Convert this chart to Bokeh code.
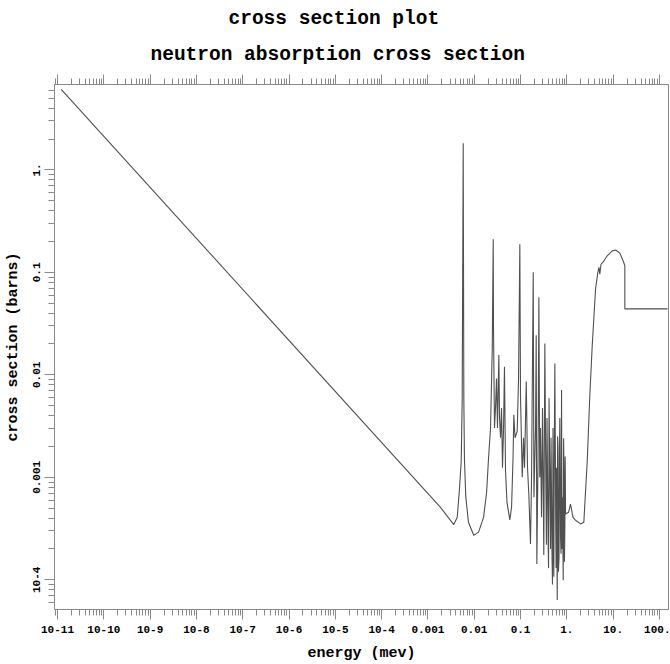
from bokeh.plotting import figure
from bokeh.models import LogAxis, FixedTicker, CustomJSTickFormatter, Title, Range1d
from bokeh.embed import file_html
from bokeh.resources import INLINE

# ---- data (energy in MeV, cross section in barns) ----
# 1/v part and first resonance
energy_low = [1.2e-11, 1.87e-3, 3.62e-3, 4.3e-3, 4.82e-3, 5.24e-3, 5.5e-3, 5.78e-3,
              5.96e-3, 6.16e-3, 6.58e-3, 7.5e-3]
sigma_low = [6.1, 5.09e-4, 3.46e-4, 4.07e-4, 7.9e-4, 1.44e-3, 5.9e-3, 1.82,
             5.9e-3, 1.44e-3, 6.4e-4, 3.65e-4]
# second resonance group
energy_mid = [9.8e-3, 0.0124, 0.0159, 0.0185, 0.0204, 0.0225, 0.0245, 0.0257, 0.0261,
              0.0274, 0.0288, 0.0303, 0.0318, 0.034, 0.0352, 0.037, 0.0389, 0.0408,
              0.043, 0.045, 0.0474, 0.051, 0.0587]
sigma_mid = [2.71e-4, 2.92e-4, 4.07e-4, 7.1e-4, 1.55e-3, 3.03e-3, 0.018, 0.21, 0.0282,
             3.03e-3, 4.74e-3, 9.2e-3, 3.03e-3, 0.0156, 3.8e-3, 2.43e-3, 4.74e-3, 1.24e-3,
             3.03e-3, 0.012, 1.15e-3, 5.7e-4, 3.84e-4]
# dense resonance region
energy_dense = [0.064, 0.0689, 0.0716, 0.076, 0.0847, 0.0906, 0.0966, 0.1, 0.109, 0.116,
                0.122, 0.133, 0.1416, 0.151, 0.164, 0.173, 0.188, 0.195, 0.211, 0.218,
                0.225, 0.239, 0.249, 0.26, 0.27, 0.284, 0.2985, 0.318, 0.335, 0.3516,
                0.362, 0.373, 0.393, 0.403, 0.413, 0.434, 0.445, 0.456, 0.479, 0.49,
                0.503, 0.513, 0.524, 0.537, 0.551, 0.575, 0.587, 0.598, 0.621, 0.633,
                0.646, 0.66, 0.679, 0.692, 0.706, 0.731, 0.75, 0.769, 0.788, 0.807,
                0.836, 0.852, 0.871, 0.888, 0.906, 0.92, 0.94]
sigma_dense = [5.1e-4, 1.55e-3, 4.08e-3, 2.43e-3, 2.8e-3, 9.2e-3, 0.188, 5.9e-3, 1e-3, 2.43e-3,
               1.24e-3, 8.6e-3, 1.24e-3, 6.85e-4, 2.23e-4, 1e-3, 0.1, 6.4e-4, 3.03e-3, 0.0243,
               1.43e-4, 1.55e-3, 0.0572, 1e-3, 3.03e-3, 4.07e-4, 4.74e-3, 1.75e-4, 0.0202, 1e-3,
               2.2e-4, 3.8e-3, 2.6e-4, 1.3e-4, 5.9e-3, 6.4e-4, 2.0e-4, 2.43e-3, 1.67e-4, 9e-5,
               3.03e-3, 2.5e-4, 1.07e-4, 2.2e-3, 0.0129, 4.07e-4, 1.3e-4, 1.24e-3, 6.36e-5, 2.5e-3,
               1.94e-3, 1.2e-4, 1.67e-4, 1.5e-3, 3.8e-3, 2.6e-4, 1.8e-4, 7.1e-3, 2.0e-4, 6.4e-4,
               9.9e-5, 2.4e-3, 1e-3, 1.5e-4, 3.26e-4, 1.6e-3, 4.39e-4]
# fast region and high-energy plateau
energy_high = [1.09, 1.2, 1.36, 1.54, 1.98, 2.33, 2.76, 3.14, 3.54, 4.17, 4.68, 4.95, 5.16,
               5.48, 6.3, 7.46, 9.57, 11.3, 13.96, 16.5, 17.9, 17.9, 150.0]
sigma_high = [4.56e-4, 5.48e-4, 4.07e-4, 3.81e-4, 3.51e-4, 3.65e-4, 1.45e-3, 6.37e-3, 0.0194,
              0.0688, 0.1, 0.112, 0.096, 0.12, 0.129, 0.145, 0.162, 0.165, 0.154, 0.129,
              0.116, 0.044, 0.044]

x_tick_exps = list(range(-11, 3))
x_tick_labels = ["10-11", "10-10", "10-9", "10-8", "10-7", "10-6", "10-5", "10-4",
                 "0.001", "0.01", "0.1", "1.", "10.", "100."]
y_tick_exps = [-4, -3, -2, -1, 0]
y_tick_labels = ["10-4", "0.001", "0.01", "0.1", "1."]

energy = energy_low + energy_mid + energy_dense + energy_high
sigma = sigma_low + sigma_mid + sigma_dense + sigma_high

FONT = "Liberation Mono"
GRAY = "#8a8a8a"

p = figure(width=670, height=664, x_axis_type="log", y_axis_type="log",
           x_range=Range1d(8.6e-12, 157.0), y_range=Range1d(5.13e-5, 6.81),
           output_backend="svg", toolbar_location=None, title=None,
           min_border_left=54, min_border_right=2, min_border_top=84, min_border_bottom=51)
p.background_fill_color = "white"
p.border_fill_color = "white"
p.grid.visible = False
p.outline_line_color = GRAY
p.outline_line_width = 1

x_major = [10.0 ** e for e in range(-12, 3)]
x_minor = [m * 10.0 ** e for e in range(-12, 3) for m in range(2, 10)]
y_major = [10.0 ** e for e in range(-5, 1)]
y_minor = [m * 10.0 ** e for e in range(-5, 1) for m in range(2, 10)]

fmt_code = """
const e = Math.round(Math.log10(tick));
const i = exps.indexOf(e);
return i >= 0 ? labels[i] : "";
"""
x_fmt = CustomJSTickFormatter(args=dict(exps=x_tick_exps, labels=x_tick_labels), code=fmt_code)
y_fmt = CustomJSTickFormatter(args=dict(exps=y_tick_exps, labels=y_tick_labels), code=fmt_code)
blank_fmt = CustomJSTickFormatter(code='return "";')


def style_axis(ax):
    ax.axis_line_color = GRAY
    ax.major_tick_line_color = GRAY
    ax.minor_tick_line_color = GRAY
    ax.major_tick_in = 0
    ax.minor_tick_in = 0
    ax.major_tick_out = 10
    ax.minor_tick_out = 6
    ax.major_label_text_font = FONT
    ax.major_label_text_font_style = "bold"
    ax.major_label_text_font_size = "11px"
    ax.major_label_text_color = "black"
    ax.axis_label_text_font = FONT
    ax.axis_label_text_font_style = "bold"
    ax.axis_label_text_font_size = "15px"
    ax.axis_label_text_color = "black"


xa = p.xaxis[0]
xa.ticker = FixedTicker(ticks=x_major, minor_ticks=x_minor)
xa.formatter = x_fmt
xa.axis_label = "energy (mev)"
style_axis(xa)
xa.major_label_standoff = 6
xa.axis_label_standoff = 9

ya = p.yaxis[0]
ya.ticker = FixedTicker(ticks=y_major, minor_ticks=y_minor)
ya.formatter = y_fmt
ya.axis_label = "cross section (barns)"
style_axis(ya)
ya.major_label_orientation = "vertical"
ya.major_label_standoff = 4
ya.axis_label_standoff = 9

top = LogAxis(ticker=FixedTicker(ticks=x_major, minor_ticks=x_minor), formatter=blank_fmt)
style_axis(top)
top.major_label_standoff = 0
p.add_layout(top, "above")

p.add_layout(Title(text="neutron absorption cross section", align="left", offset=96,
                   text_font=FONT, text_font_style="bold", text_font_size="19.5px",
                   text_color="black", standoff=17), "above")
p.add_layout(Title(text="cross section plot", align="left", offset=174,
                   text_font=FONT, text_font_style="bold", text_font_size="19.5px",
                   text_color="black", standoff=7), "above")

p.line(energy, sigma, line_color="#505050", line_width=1.1)

open("out.html", "w").write(file_html(p, INLINE))
